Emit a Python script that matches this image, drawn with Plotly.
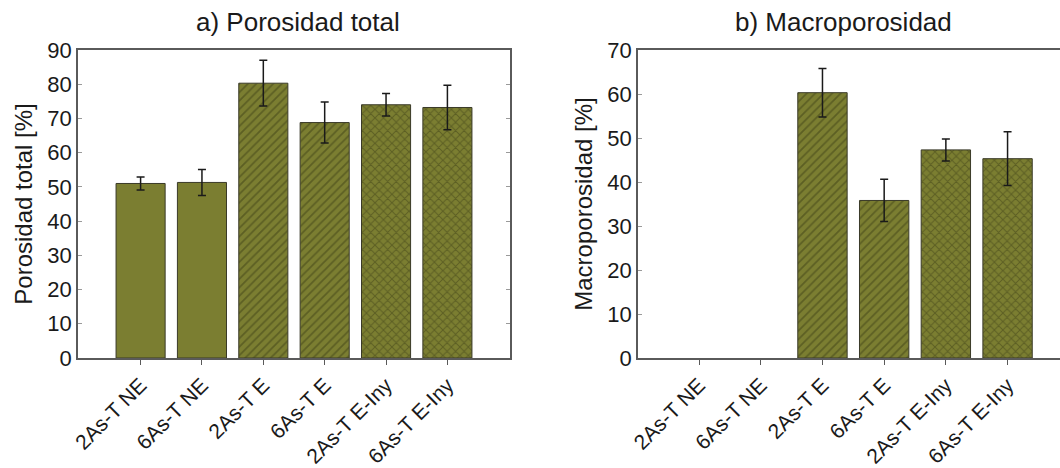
import plotly.graph_objects as go

# Treatments (shared by both panels)
categories = ["2As-T NE", "6As-T NE", "2As-T E", "6As-T E", "2As-T E-Iny", "6As-T E-Iny"]

# a) Total porosity [%] and its standard deviation
porosidad_total = [51.0, 51.3, 80.3, 68.8, 74.0, 73.2]
porosidad_total_err = [1.9, 3.8, 6.7, 6.0, 3.3, 6.5]

# b) Macroporosity [%] and its standard deviation (not measured for NE)
macroporosidad = [None, None, 60.3, 35.8, 47.3, 45.3]
macroporosidad_err = [None, None, 5.5, 4.8, 2.5, 6.1]

# Fill pattern per treatment: plain, hatched, cross-hatched
patterns = ["", "", "/", "/", "x", "x"]

OLIVE = "#7b7e31"
HATCH = "#3d3f16"
AXIS = "#5a5a5a"
FONT = "Liberation Sans, Arial, sans-serif"

W, H = 1060, 468
ML, MR, MT, MB = 78, 0, 50, 107
plot_w = W - ML - MR


def px_to_paper(x):
    return (x - ML) / plot_w


def bar_trace(values, errors, xa, ya):
    return go.Bar(
        x=categories,
        y=values,
        xaxis=xa,
        yaxis=ya,
        width=0.8,
        marker=dict(
            color=OLIVE,
            line=dict(color="#3a3a28", width=1),
            pattern=dict(
                shape=patterns,
                fgcolor=HATCH,
                bgcolor=OLIVE,
                size=6,
                solidity=0.3,
                fillmode="overlay",
            ),
        ),
        error_y=dict(
            type="data",
            array=errors,
            visible=True,
            color="#1a1a1a",
            thickness=1.5,
            width=4,
        ),
        showlegend=False,
        hoverinfo="x+y",
    )


fig = go.Figure()
fig.add_trace(bar_trace(porosidad_total, porosidad_total_err, "x", "y"))
fig.add_trace(bar_trace(macroporosidad, macroporosidad_err, "x2", "y2"))

xaxis_common = dict(
    type="category",
    categoryorder="array",
    categoryarray=categories,
    tickangle=-45,
    ticks="outside",
    ticklen=5,
    tickcolor=AXIS,
    tickwidth=1.2,
    showline=True,
    linecolor=AXIS,
    linewidth=1.5,
    mirror=True,
    showgrid=False,
    zeroline=False,
    tickfont=dict(family=FONT, size=21, color="#1a1a1a"),
)
yaxis_common = dict(
    ticks="inside",
    ticklen=4,
    tickcolor="#9a9a9a",
    tickwidth=1,
    showline=True,
    linecolor=AXIS,
    linewidth=1.5,
    showgrid=False,
    zeroline=False,
    dtick=10,
    tickfont=dict(family=FONT, size=22, color="#1a1a1a"),
    title_font=dict(family=FONT, size=24, color="#1a1a1a"),
)

x1_end = px_to_paper(510)
x2_start = px_to_paper(638)

title_font = dict(family=FONT, size=26, color="#1a1a1a")

fig.update_layout(
    width=W,
    height=H,
    margin=dict(l=ML, r=MR, t=MT, b=MB),
    paper_bgcolor="white",
    plot_bgcolor="white",
    bargap=0.2,
    xaxis=dict(xaxis_common, domain=[0, x1_end], range=[-1.02, 6.02], anchor="y"),
    yaxis=dict(
        yaxis_common,
        range=[0, 90],
        anchor="x",
        mirror="ticks",
        title=dict(text="Porosidad total [%]", standoff=8),
    ),
    xaxis2=dict(xaxis_common, domain=[x2_start, 1], range=[-0.99, 5.85], anchor="y2"),
    yaxis2=dict(
        yaxis_common,
        range=[0, 70],
        anchor="x2",
        mirror=False,
        title=dict(text="Macroporosidad [%]", standoff=8),
    ),
    annotations=[
        dict(
            text="a) Porosidad total",
            x=px_to_paper(298),
            y=1,
            xref="paper",
            yref="paper",
            xanchor="center",
            yanchor="middle",
            yshift=28,
            showarrow=False,
            font=title_font,
        ),
        dict(
            text="b) Macroporosidad",
            x=px_to_paper(843),
            y=1,
            xref="paper",
            yref="paper",
            xanchor="center",
            yanchor="middle",
            yshift=28,
            showarrow=False,
            font=title_font,
        ),
    ],
)

fig.write_html("out.html")
